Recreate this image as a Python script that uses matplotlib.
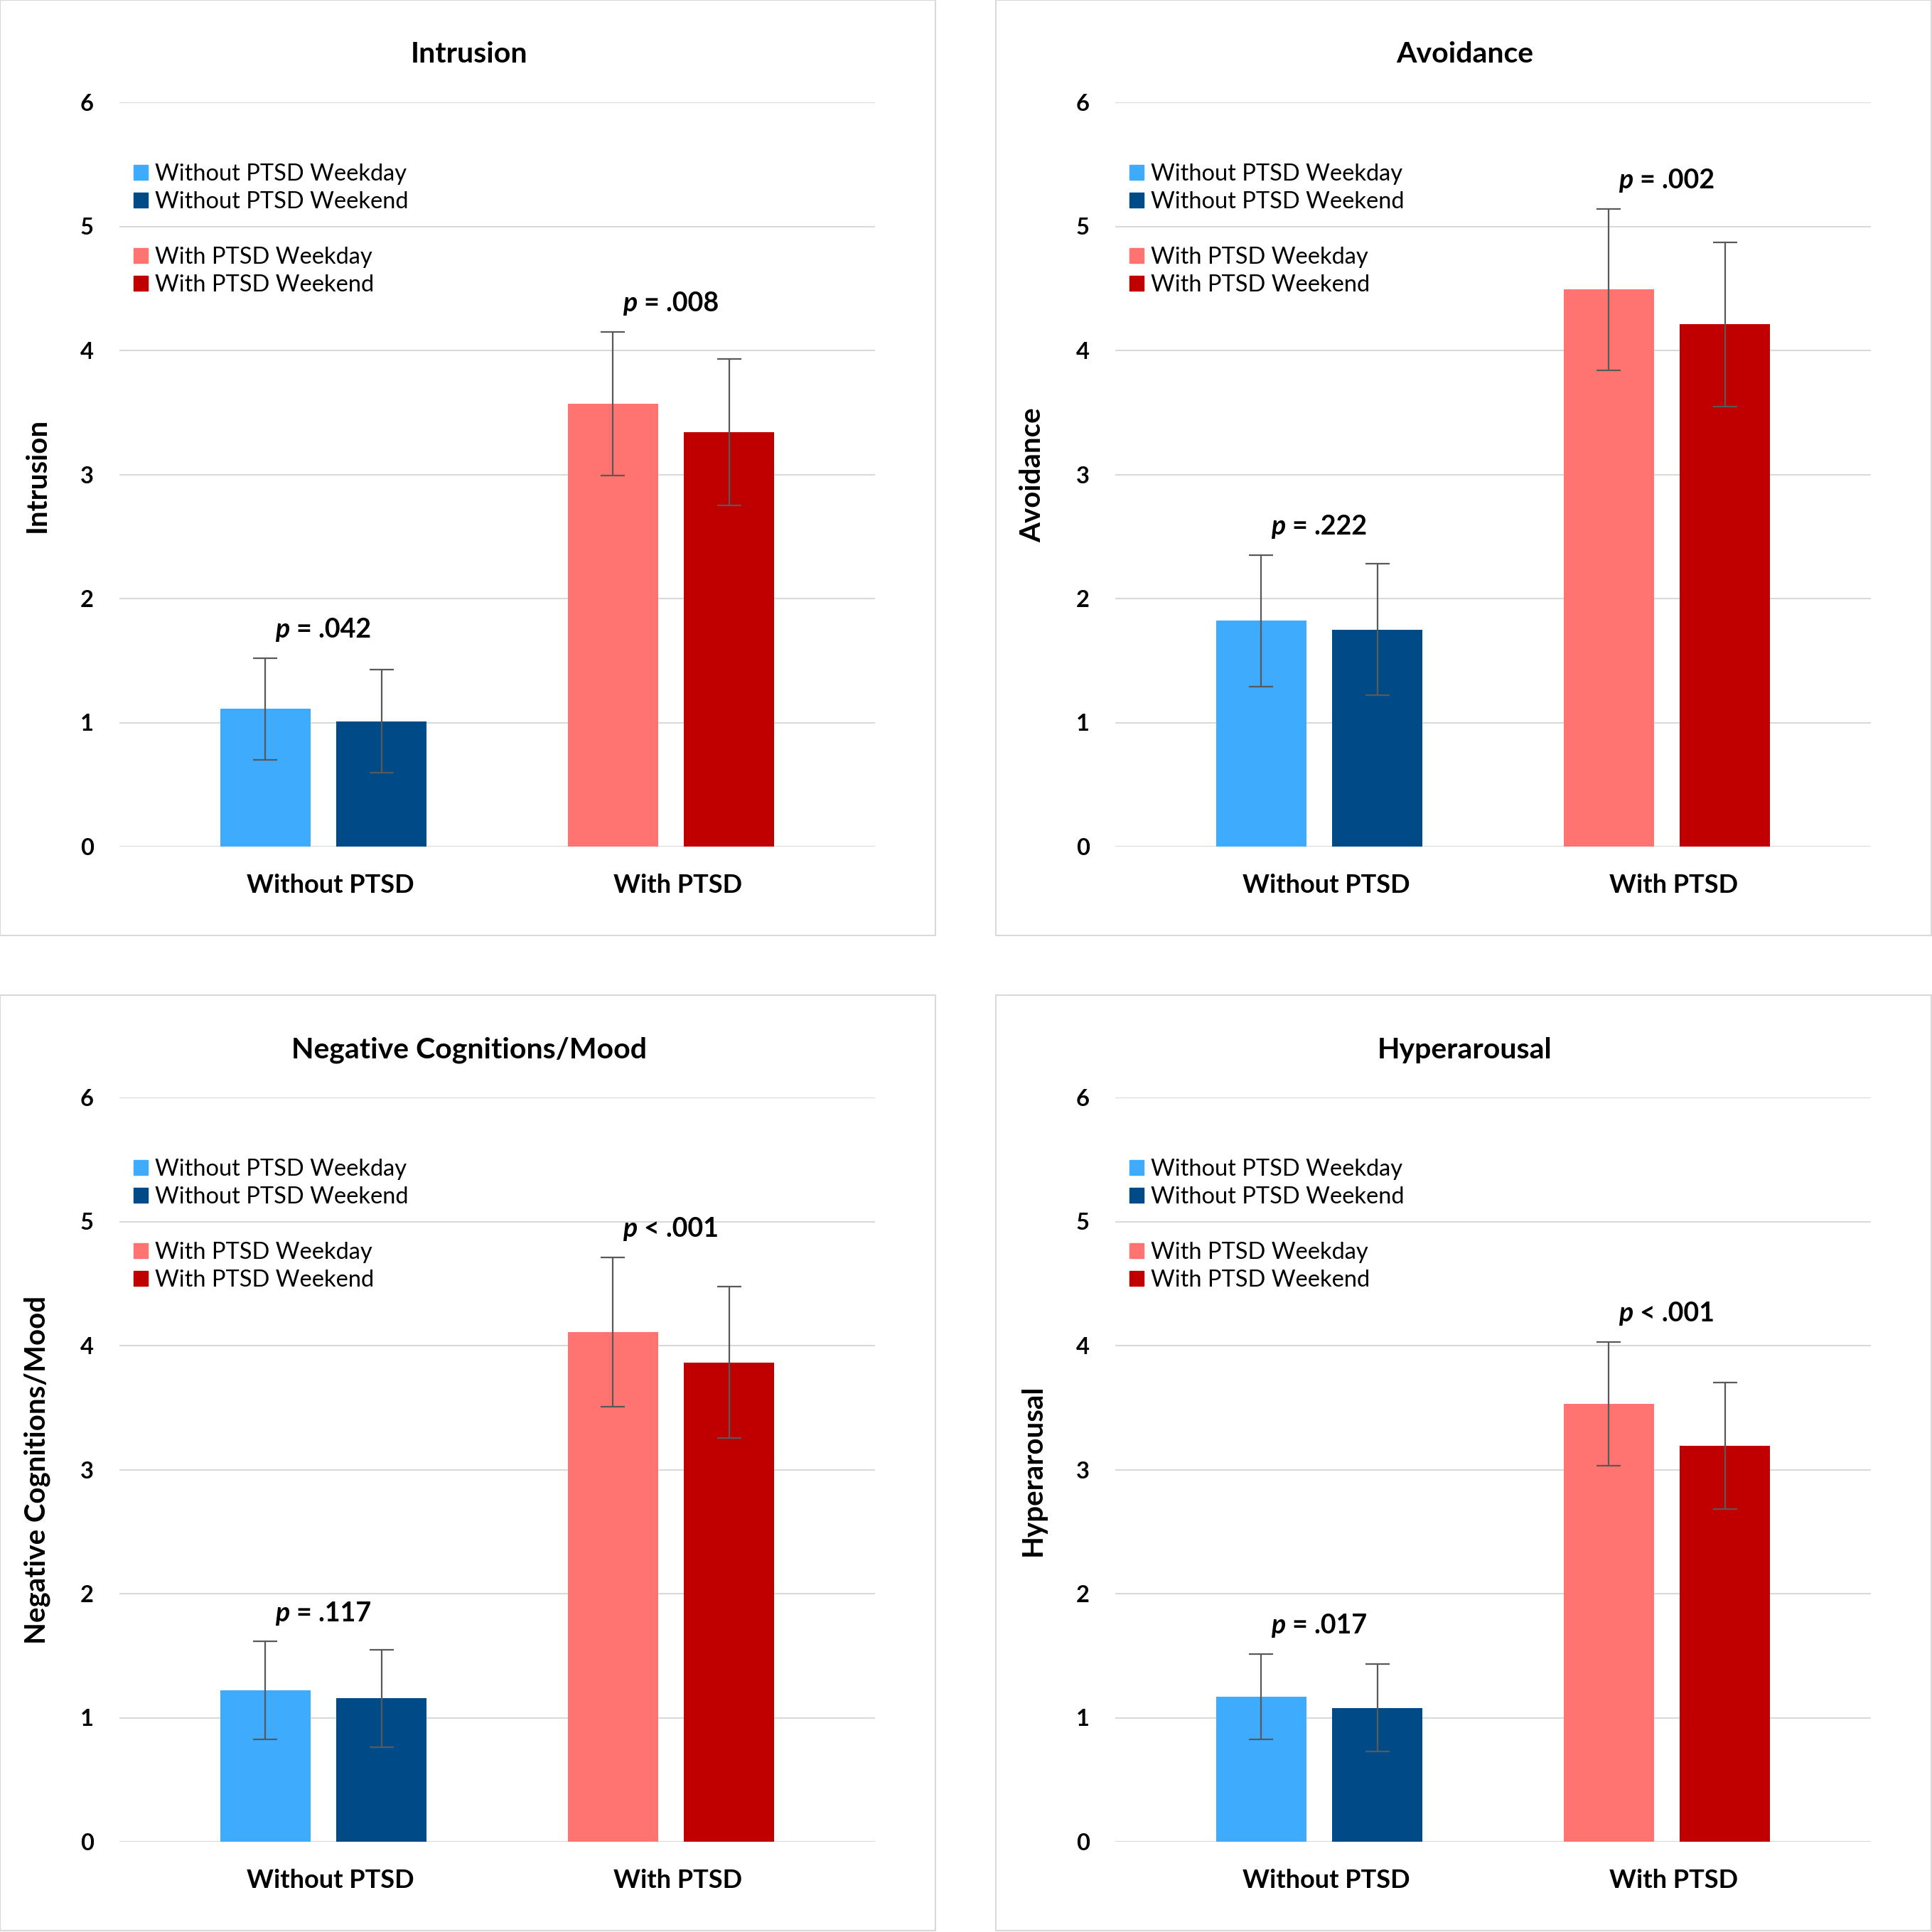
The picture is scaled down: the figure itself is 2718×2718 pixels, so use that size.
import numpy as np
import matplotlib
matplotlib.use('Agg')
import matplotlib.pyplot as plt
from matplotlib.patches import Rectangle, Patch
from matplotlib.offsetbox import TextArea, HPacker, AnnotationBbox

plt.rcParams['font.family'] = ['Lato', 'DejaVu Sans']

# -------------------------------
# DATA
# -------------------------------
groups = ['Without PTSD', 'With PTSD']
titles = ['Intrusion', 'Avoidance', 'Negative Cognitions/Mood', 'Hyperarousal']

# one row per panel: [Without PTSD, With PTSD]
weekday_mean = [[1.11, 3.57], [1.82, 4.49], [1.22, 4.11], [1.17, 3.53]]
weekend_mean = [[1.01, 3.34], [1.75, 4.21], [1.155, 3.865], [1.08, 3.19]]
weekday_err = [[0.41, 0.58], [0.53, 0.65], [0.395, 0.60], [0.345, 0.50]]
weekend_err = [[0.415, 0.59], [0.53, 0.66], [0.39, 0.61], [0.35, 0.51]]
p_text = [['= .042', '= .008'], ['= .222', '= .002'],
          ['= .117', '< .001'], ['= .017', '< .001']]

legend_labels = ['Without PTSD Weekday', 'Without PTSD Weekend',
                 'With PTSD Weekday', 'With PTSD Weekend']

# colours: [weekday, weekend] for each group
weekday_colors = ['#3FABFD', '#FF7371']
weekend_colors = ['#004B87', '#C00000']

# -------------------------------
# LAYOUT
# -------------------------------
W = 2718
fig = plt.figure(figsize=(W / 100, W / 100), dpi=100)
origins = [(0, 0), (1401, 0), (0, 1400), (1401, 1400)]

bar_w = 0.26
off = 0.167
x = np.arange(len(groups))

for i, (px, py) in enumerate(origins):
    # panel border
    fig.patches.append(Rectangle((px / W, 1 - (py + 1316) / W), 1316 / W, 1316 / W,
                                 transform=fig.transFigure, fill=False,
                                 edgecolor='#d9d9d9', linewidth=1.5))

    ax = fig.add_axes([(px + 168) / W, 1 - (py + 1191) / W, 1063 / W, 1047 / W])

    err_style = dict(ecolor='#595959', elinewidth=1.6, capsize=12, capthick=1.6)
    ax.bar(x - off, weekday_mean[i], bar_w, color=weekday_colors,
           yerr=weekday_err[i], error_kw=err_style)
    ax.bar(x + off, weekend_mean[i], bar_w, color=weekend_colors,
           yerr=weekend_err[i], error_kw=err_style)

    ax.set_ylim(0, 6)
    ax.set_xlim(-0.587, 1.587)
    ax.set_yticks(range(7))
    ax.set_axisbelow(True)
    ax.grid(axis='y', color='#d9d9d9', linewidth=1.5)
    for s in ax.spines.values():
        s.set_visible(False)

    ax.set_xticks(x + 0.02, groups)
    for lab in ax.get_xticklabels():
        lab.set_fontsize(26)
        lab.set_fontweight('bold')
    for lab in ax.get_yticklabels():
        lab.set_fontsize(23.5)
        lab.set_fontweight('bold')
    ax.tick_params(axis='x', length=0, pad=27)
    ax.tick_params(axis='y', length=0, pad=26)

    # title and y label
    fig.text((px + 660) / W, 1 - (py + 77) / W, titles[i], ha='center', va='center',
             fontsize=29.5, fontweight='bold')
    fig.text((px + 52) / W, 1 - (py + 668) / W, titles[i], ha='center', va='center',
             rotation=90, fontsize=29, fontweight='bold')

    # legend with a blank row between the two groups
    handles = [Patch(color=weekday_colors[0]), Patch(color=weekend_colors[0]),
               Patch(facecolor='none', edgecolor='none'),
               Patch(color=weekday_colors[1]), Patch(color=weekend_colors[1])]
    labels = legend_labels[:2] + [' '] + legend_labels[2:]
    ax.legend(handles, labels, loc='upper left', bbox_to_anchor=(0.019, 0.918),
              frameon=False, fontsize=23.5, handlelength=0.62, handleheight=0.62,
              handletextpad=0.3, labelspacing=0.28, borderpad=0, borderaxespad=0)

    # p values above each group
    for g in range(len(groups)):
        top = max(weekday_mean[i][g] + weekday_err[i][g],
                  weekend_mean[i][g] + weekend_err[i][g]) + 0.23
        box = HPacker(children=[
            TextArea('p', textprops=dict(fontsize=27, fontweight='bold', fontstyle='italic')),
            TextArea(p_text[i][g], textprops=dict(fontsize=27, fontweight='bold'))],
            pad=0, sep=7, align='baseline')
        ab = AnnotationBbox(box, (x[g], top), frameon=False, box_alignment=(0.5, 0.5), pad=0)
        ax.add_artist(ab)

fig.savefig('out.png', dpi=100, facecolor='white')
